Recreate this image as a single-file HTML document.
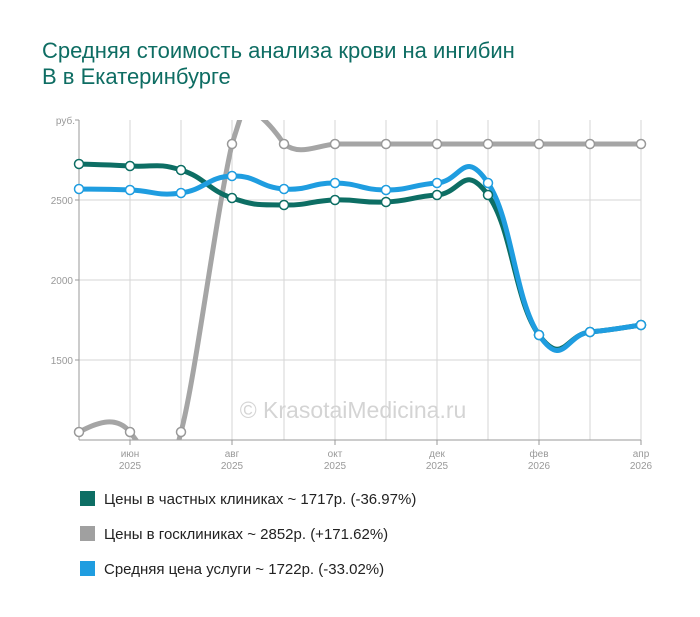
<!DOCTYPE html>
<html><head><meta charset="utf-8"><style>
body{margin:0;background:#fff;width:700px;height:617px;overflow:hidden;font-family:"Liberation Sans",Arial,sans-serif}
.t{position:absolute;left:42px;top:38px;font-size:22px;line-height:26px;color:#0e6d63}
</style></head><body>
<div class="t">Средняя стоимость анализа крови на ингибин<br>В в Екатеринбурге</div>
<svg width="700" height="617" style="position:absolute;left:0;top:0">
<defs><clipPath id="c"><rect x="79" y="120" width="562" height="320"/></clipPath></defs>
<g stroke="#d6d6d6" stroke-width="1">
<line x1="79" y1="200" x2="641" y2="200"/><line x1="79" y1="280" x2="641" y2="280"/><line x1="79" y1="360" x2="641" y2="360"/>
<line x1="130" y1="120" x2="130" y2="440"/><line x1="181" y1="120" x2="181" y2="440"/><line x1="232" y1="120" x2="232" y2="440"/><line x1="284" y1="120" x2="284" y2="440"/><line x1="335" y1="120" x2="335" y2="440"/><line x1="386" y1="120" x2="386" y2="440"/><line x1="437" y1="120" x2="437" y2="440"/><line x1="488" y1="120" x2="488" y2="440"/><line x1="539" y1="120" x2="539" y2="440"/><line x1="590" y1="120" x2="590" y2="440"/><line x1="641" y1="120" x2="641" y2="440"/>
</g>
<g stroke="#999" stroke-width="1"><line x1="79" y1="120" x2="79" y2="440"/><line x1="79" y1="440" x2="641" y2="440"/>
<line x1="75" y1="120" x2="79" y2="120"/><line x1="75" y1="200" x2="79" y2="200"/><line x1="75" y1="280" x2="79" y2="280"/><line x1="75" y1="360" x2="79" y2="360"/>
<line x1="130" y1="440" x2="130" y2="445"/><line x1="232" y1="440" x2="232" y2="445"/><line x1="335" y1="440" x2="335" y2="445"/><line x1="437" y1="440" x2="437" y2="445"/><line x1="539" y1="440" x2="539" y2="445"/><line x1="641" y1="440" x2="641" y2="445"/></g>
<g font-size="10" fill="#999" text-anchor="end"><text x="75" y="124">руб.</text><text x="73" y="204">2500</text><text x="73" y="284">2000</text><text x="73" y="364">1500</text></g>
<g font-size="10" fill="#999" text-anchor="middle">
<text x="130" y="457">июн</text><text x="130" y="469">2025</text><text x="232" y="457">авг</text><text x="232" y="469">2025</text><text x="335" y="457">окт</text><text x="335" y="469">2025</text><text x="437" y="457">дек</text><text x="437" y="469">2025</text><text x="539" y="457">фев</text><text x="539" y="469">2026</text><text x="641" y="457">апр</text><text x="641" y="469">2026</text></g>
<text x="353" y="418" font-size="23" fill="#d4d4d4" text-anchor="middle">© KrasotaiMedicina.ru</text>
<g clip-path="url(#c)" fill="none" stroke-width="5" stroke-linecap="round">
<path stroke="#a5a5a5" d="M79,432 C95,424 115,414 130,432 L145,452 M176,452 L181,432 C195,380 215,220 232,144 L246,100 M262,118 C270,125 278,135 284,144 C300,156 315,146 335,144 L641,144"/>
<path id="g" stroke="#0d6e64"/>
<path id="b" stroke="#1f9de0"/>
</g>
<g id="m"></g>
<rect x="80" y="491" width="15" height="15" fill="#0d6e64"/>
<rect x="80" y="526" width="15" height="15" fill="#a0a0a0"/>
<rect x="80" y="561" width="15" height="15" fill="#1f9de0"/>
<g font-size="15" fill="#222"><text x="104" y="504">Цены в частных клиниках ~ 1717р. (-36.97%)</text><text x="104" y="539">Цены в госклиниках ~ 2852р. (+171.62%)</text><text x="104" y="574">Средняя цена услуги ~ 1722р. (-33.02%)</text></g>
</svg>
<script>
var X=[79,130,181,232,284,335,386,437,488,539,590,641];
var G=[164,166,170,198,205,200,202,195,195,335,332,325];
var B=[189,190,193,176,189,183,190,183,183,335,332,325];
function cr(Y){var k=4.2,d="M"+X[0]+","+Y[0];for(var i=0;i<X.length-1;i++){var p0=i?i-1:i,p3=i+2<X.length?i+2:i+1;
d+=" C"+(X[i]+(X[i+1]-X[p0])/k)+","+(Y[i]+(Y[i+1]-Y[p0])/k)+" "+(X[i+1]-(X[p3]-X[i])/k)+","+(Y[i+1]-(Y[p3]-Y[i])/k)+" "+X[i+1]+","+Y[i+1];}return d;}
document.getElementById("g").setAttribute("d",cr(G));
document.getElementById("b").setAttribute("d",cr(B));
var s="";
var gr=[[79,432],[130,432],[181,432],[232,144],[284,144],[335,144],[386,144],[437,144],[488,144],[539,144],[590,144],[641,144]];
gr.forEach(function(p){s+='<circle cx="'+p[0]+'" cy="'+p[1]+'" r="4.5" fill="#fff" stroke="#999" stroke-width="1.5"/>';});
X.forEach(function(x,i){s+='<circle cx="'+x+'" cy="'+G[i]+'" r="4.5" fill="#fff" stroke="#0d6e64" stroke-width="1.5"/>';s+='<circle cx="'+x+'" cy="'+B[i]+'" r="4.5" fill="#fff" stroke="#1f9de0" stroke-width="1.5"/>';});
document.getElementById("m").innerHTML=s;
</script>
</body></html>
